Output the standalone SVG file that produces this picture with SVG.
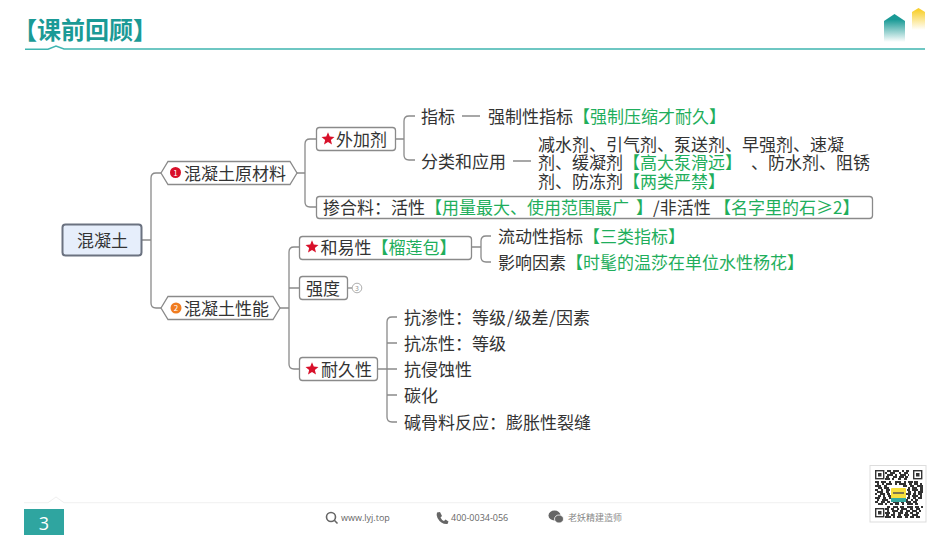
<svg xmlns="http://www.w3.org/2000/svg" xmlns:xlink="http://www.w3.org/1999/xlink" width="950" height="535" viewBox="0 0 950 535">
<style>
text{font-family:"Noto Sans CJK SC","Noto Sans",sans-serif;fill:#333;font-size:17px}
.g{fill:#1fae5c}
.n{fill:#fff;stroke:#8a8a8a;stroke-width:1.3}
.c{fill:none;stroke:#8a8a8a;stroke-width:1.3}
.f{font-family:"Open Sans",sans-serif;font-size:9px;fill:#666}
.i{fill:none;stroke:#666;stroke-width:1.6}
</style>
<defs>
<linearGradient id="tealFade" x1="0" y1="0" x2="0" y2="1"><stop offset="0.2" stop-color="#1a9a96"/><stop offset="1" stop-color="#1a9a96" stop-opacity="0"/></linearGradient>
<linearGradient id="goldFade" x1="0" y1="0" x2="0" y2="1"><stop offset="0.1" stop-color="#f8d030"/><stop offset="1" stop-color="#f8d030" stop-opacity="0"/></linearGradient>
<polygon id="star" points="0,-6.800 1.760,-2.430 6.470,-2.100 2.850,0.930 4,5.500 0,3 -4,5.500 -2.850,0.930 -6.470,-2.100 -1.760,-2.430" fill="#d8102a"/>
</defs>
<rect width="950" height="535" fill="#fff"/>

<g id="header">
<text x="13" y="38.500" style="font-size:24px;font-weight:700;fill:#1a9a96">【课前回顾】</text>
<path d="M25 49.300H48L56 46L64 49H925" fill="none" stroke="#3fb5b0" stroke-width="1.500"/>
<path d="M884 21L894.500 14L905 21V42H884Z" fill="url(#tealFade)"/>
<path d="M912 12L918.500 8L925 12V30H912Z" fill="url(#goldFade)"/>
</g>

<g id="connectors">
<path class="c" d="M142 240H151M161 173H156Q151 173 151 178V303Q151 308 156 308H161"/>
<path class="c" d="M297 173H305M316 139H310Q305 139 305 144V202Q305 207 310 207H316"/>
<path class="c" d="M396 139H404M415 116H409Q404 116 404 121V155Q404 160 409 160H415"/>
<path class="c" d="M462 116H480M513 161H531"/>
<path class="c" d="M280 308H289M299 247H294Q289 247 289 252V364Q289 369 294 369H299M289 288H299"/>
<path class="c" d="M472 247H481M491 236H486Q481 236 481 241V257Q481 262 486 262H491"/>
<path class="c" d="M348 288H352"/>
<path class="c" d="M378 369H397M397 317H392Q387 317 387 322V417Q387 422 392 422H397M387 343H397M387 395H397"/>
</g>

<g id="root">
<rect x="62.500" y="224.500" width="79" height="31" rx="3" fill="#e6eefb" stroke="#6b7280" stroke-width="2"/>
<text x="77" y="246.500">混凝土</text>
</g>
<g id="materials">
<path class="n" d="M161 173L168 161.500H290L297 173L290 184.500H168Z"/>
<circle cx="175.500" cy="172.500" r="5.500" fill="#d8102a"/>
<text x="175.500" y="175.500" text-anchor="middle" style="font-size:8px;fill:#fff">1</text>
<text x="184" y="179.500">混凝土原材料</text>
</g>
<g id="performance">
<path class="n" d="M161 308L168 296.500H273L280 308L273 319.500H168Z"/>
<circle cx="176" cy="308" r="5.500" fill="#f07c20"/>
<text x="176" y="311" text-anchor="middle" style="font-size:8px;fill:#fff">2</text>
<text x="184" y="314.500">混凝土性能</text>
</g>
<g id="admixture">
<rect class="n" x="316.500" y="127.500" width="79" height="23" rx="3"/>
<use xlink:href="#star" href="#star" x="328" y="139"/>
<text x="336" y="145.500">外加剂</text>
</g>
<g id="indicator">
<text x="421" y="122.500">指标</text>
</g>
<g id="strength-indicator">
<text x="488" y="122.500">强制性指标<tspan class="g">【强制压缩才耐久】</tspan></text>
</g>
<g id="classification">
<text x="421" y="167.500">分类和应用</text>
</g>
<g id="classification-detail">
<text><tspan x="538" y="150.500">减水剂、引气剂、泵送剂、早强剂、速凝</tspan><tspan x="538" y="168.500">剂、缓凝剂</tspan><tspan class="g">【高大泵滑远】</tspan><tspan x="751">、防水剂、阻锈</tspan><tspan x="538" y="187.500">剂、防冻剂</tspan><tspan class="g">【两类严禁】</tspan></text>
</g>
<g id="mineral">
<rect class="n" x="316.500" y="196.500" width="556" height="22" rx="3"/>
<text x="323" y="213.500">掺合料：活性<tspan class="g">【用量最大、使用范围最广</tspan><tspan class="g" x="636">】</tspan><tspan x="653">/非活性</tspan><tspan class="g" x="714">【名字里的石≥2】</tspan></text>
</g>
<g id="workability">
<rect class="n" x="299.500" y="236.500" width="172" height="23" rx="3"/>
<use xlink:href="#star" href="#star" x="312" y="247"/>
<text x="320.500" y="253.500">和易性<tspan class="g">【榴莲包】</tspan></text>
</g>
<g id="flow">
<text x="498" y="242.500">流动性指标<tspan class="g">【三类指标】</tspan></text>
</g>
<g id="factors">
<text x="498" y="268.500">影响因素<tspan class="g">【时髦的温莎在单位水性杨花】</tspan></text>
</g>
<g id="strength">
<rect class="n" x="299.500" y="276.500" width="48" height="23" rx="3"/>
<text x="306" y="294.500">强度</text>
<circle cx="357" cy="288" r="4.800" fill="#fff" stroke="#999" stroke-width="0.800"/>
<text x="357" y="290.500" text-anchor="middle" style="font-size:7px;fill:#999">3</text>
</g>
<g id="durability">
<rect class="n" x="299.500" y="357.500" width="78" height="23" rx="3"/>
<use xlink:href="#star" href="#star" x="312" y="369"/>
<text x="321" y="375.500">耐久性</text>
</g>
<g id="seepage"><text x="404" y="323.500">抗渗性：等级<tspan x="507">/</tspan><tspan x="514.500">级差</tspan><tspan x="549">/</tspan><tspan x="556">因素</tspan></text></g>
<g id="frost"><text x="404" y="349.500">抗冻性：等级</text></g>
<g id="erosion"><text x="404" y="375.500">抗侵蚀性</text></g>
<g id="carbonation"><text x="404" y="401.500">碳化</text></g>
<g id="alkali"><text x="404" y="428.500">碱骨料反应：膨胀性裂缝</text></g>

<g id="footer">
<path d="M24 502.700H48L56 497L64 502.700H840" fill="none" stroke="#f0f0f0" stroke-width="1"/>
<rect x="24" y="509" width="40" height="26" fill="#2fa5a0"/>
<text x="44" y="530" text-anchor="middle" style="font-family:'Open Sans',sans-serif;font-size:18px;fill:#fff">3</text>
<circle class="i" cx="331" cy="517" r="4.500"/>
<path class="i" d="M334.300 520.300L337.500 523.500"/>
<text class="f" x="341" y="521">www.lyj.top</text>
<path d="M437 512.500L440 512L442 516L440.500 517.500Q441.500 520 444 521L445.500 519.500L448.500 521.500L447.500 524Q441 524.500 437.500 518Q436 515 437 512.500Z" fill="#666"/>
<text class="f" x="451" y="521">400-0034-056</text>
<ellipse cx="554.500" cy="515.500" rx="6" ry="5" fill="#666"/>
<ellipse cx="559" cy="519" rx="4.500" ry="4" fill="#666" stroke="#fff" stroke-width="0.800"/>
<text class="f" x="568" y="521" style="fill:#888;font-family:'Noto Sans CJK SC',sans-serif">老妖精建造师</text>
</g>

<g id="qr">
<rect x="870" y="465.500" width="56" height="56.500" fill="#fff" stroke="#ddd" stroke-width="1"/>
<path fill="none" stroke="#333" stroke-width="2" d="M887 471h4m2 0h6m3 0h2m2 0h3
M885 473h2m3 0h5m4 0h2m3 0h4
M887 475h6m2 0h2m3 0h6m2 0h1
M886 477h3m4 0h4m2 0h5m1 0h3
M885 479h5m2 0h2m4 0h3m3 0h3
M875 482h4m2 0h5m3 0h2m4 0h6m3 0h2m2 0h5m1 0h4
M877 484h2m3 0h2m2 0h6m3 0h2m2 0h7m3 0h3m2 0h4m2 0h2
M875 486h6m3 0h3m3 0m13 0h4m3 0h4m3 0h6
M878 488h4m2 0h5m19 0h2m2 0h5m3 0h3
M875 490h3m3 0h2m3 0h4m17 0h3m2 0h6m2 0h3
M877 492h6m3 0h3m19 0h3m3 0h2m2 0h5
M875 494h2m3 0h5m2 0h3m16 0h5m2 0h3m2 0h4
M878 496h3m2 0h2m3 0h3m17 0h2m2 0h6m2 0h2
M875 498h5m3 0h3m3 0h2m16 0h3m3 0h3m2 0h4
M877 500h2m3 0h6m3 0h2m3 0h5m3 0h4m3 0h2m2 0h3
M875 502h3m3 0h4m2 0h3m3 0h6m2 0h3m2 0h5m2 0h4
M878 504h5m2 0h2m3 0h3m2 0h4m3 0h2m3 0h6m2 0h3
M887 507h3m3 0h5m2 0h4m3 0h6m2 0h4m2 0h2
M885 509h4m2 0h3m3 0h2m2 0h6m3 0h3m3 0h4
M887 511h2m3 0h6m2 0h3m3 0h4m2 0h5m2 0h2
M885 513h5m3 0h2m3 0h5m2 0h3m2 0h3m3 0h3
M886 515h3m2 0h4m3 0h3m3 0h5m3 0h6
M885 517h6m2 0h2m2 0h5m3 0h3m2 0h4m2 0h4"/>
<g fill="none" stroke="#333" stroke-width="1.400">
<rect x="875.700" y="470.700" width="8" height="8"/>
<rect x="913.700" y="470.700" width="8" height="8"/>
<rect x="875.700" y="508.700" width="8" height="8"/>
</g>
<g fill="#333">
<rect x="878" y="473" width="3.500" height="3.500"/>
<rect x="916" y="473" width="3.500" height="3.500"/>
<rect x="878" y="511" width="3.500" height="3.500"/>
</g>
<rect x="891" y="488" width="15" height="14" rx="1" fill="#f6de3c"/>
<rect x="891" y="498" width="15" height="4" fill="#35a99f"/>
<path d="M893 493h11" stroke="#555" stroke-width="1.500"/>
</g>
</svg>
